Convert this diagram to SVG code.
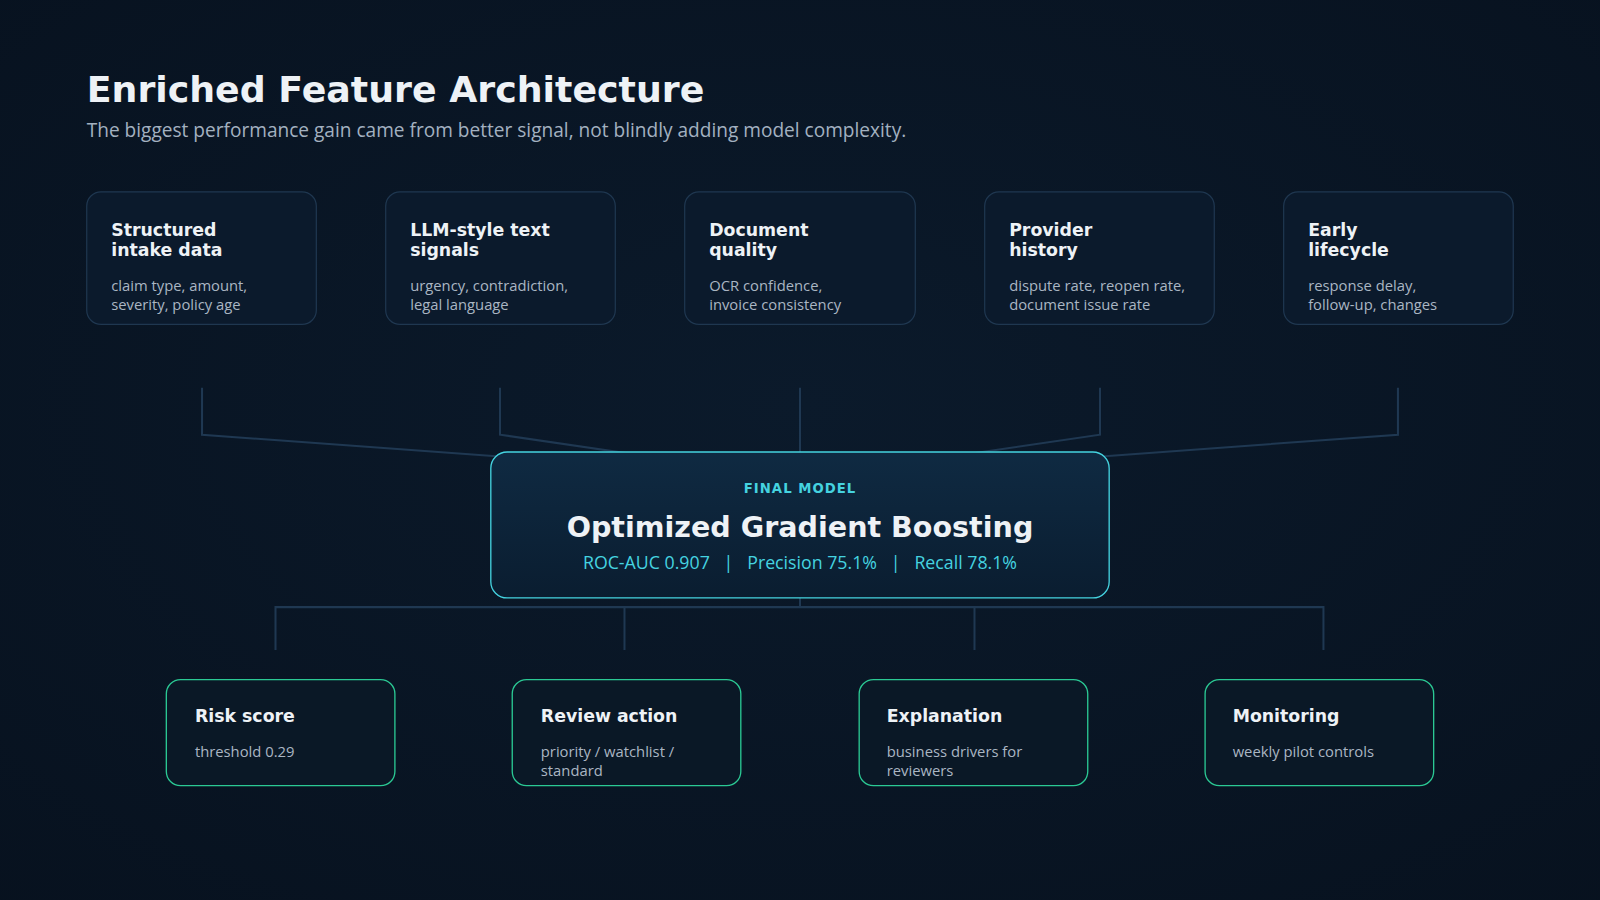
<svg xmlns="http://www.w3.org/2000/svg" width="1600" height="900" viewBox="0 0 1600 900">
<defs>
<radialGradient id="bg" cx="0.5" cy="0.45" r="0.8"><stop offset="0" stop-color="#0b1a2b"/><stop offset="1" stop-color="#07111e"/></radialGradient>
<linearGradient id="cg" x1="0" y1="0" x2="0" y2="1"><stop offset="0" stop-color="#0f2a42"/><stop offset="1" stop-color="#0a1d30"/></linearGradient>
</defs>
<style>
.card{fill:#0b1a2c;stroke:#1f3750;stroke-width:1.2}
.out{fill:#0a1826;stroke:#2bc994;stroke-width:1.3}
.h{font-family:"DejaVu Sans",sans-serif;font-weight:bold;font-size:17px;fill:#eef2f6}
.d{font-family:"Open Sans","Noto Sans",sans-serif;font-size:14.5px;fill:#aab6c3}
.ln{fill:none;stroke:#1f3852;stroke-width:2}
</style>
<rect width="1600" height="900" fill="url(#bg)"/>
<g transform="scale(1.0204)">
<text x="85" y="100" font-family="DejaVu Sans,sans-serif" font-weight="bold" font-size="35.6" fill="#eef2f6">Enriched Feature Architecture</text>
<text x="85" y="134" font-family="Open Sans,Noto Sans,sans-serif" font-size="18.7" fill="#a3b1c0">The biggest performance gain came from better signal, not blindly adding model complexity.</text>
<g id="connectors" class="ln">
<path d="M198 380V426L784 469M490 380V426L784 469M784 380V469M1078 380V426L784 469M1370 380V426L784 469"/>
<path d="M784 586V595M270 637V595H1297V637M612 595V637M955 595V637"/>
</g>
<g id="f1"><rect class="card" x="85" y="188" width="225" height="130" rx="14"/><text class="h" x="109" y="231">Structured</text><text class="h" x="109" y="251">intake data</text><text class="d" x="109" y="285">claim type, amount,</text><text class="d" x="109" y="304">severity, policy age</text></g>
<g id="f2"><rect class="card" x="378" y="188" width="225" height="130" rx="14"/><text class="h" x="402" y="231">LLM-style text</text><text class="h" x="402" y="251">signals</text><text class="d" x="402" y="285">urgency, contradiction,</text><text class="d" x="402" y="304">legal language</text></g>
<g id="f3"><rect class="card" x="671" y="188" width="226" height="130" rx="14"/><text class="h" x="695" y="231">Document</text><text class="h" x="695" y="251">quality</text><text class="d" x="695" y="285">OCR confidence,</text><text class="d" x="695" y="304">invoice consistency</text></g>
<g id="f4"><rect class="card" x="965" y="188" width="225" height="130" rx="14"/><text class="h" x="989" y="231">Provider</text><text class="h" x="989" y="251">history</text><text class="d" x="989" y="285">dispute rate, reopen rate,</text><text class="d" x="989" y="304">document issue rate</text></g>
<g id="f5"><rect class="card" x="1258" y="188" width="225" height="130" rx="14"/><text class="h" x="1282" y="231">Early</text><text class="h" x="1282" y="251">lifecycle</text><text class="d" x="1282" y="285">response delay,</text><text class="d" x="1282" y="304">follow-up, changes</text></g>
<g id="model"><rect x="481" y="443" width="606" height="143" rx="16" fill="url(#cg)" stroke="#45d3e0" stroke-width="1.3"/>
<text x="784" y="483" text-anchor="middle" font-family="DejaVu Sans,sans-serif" font-weight="bold" font-size="13" letter-spacing="1" fill="#45d3e0">FINAL MODEL</text>
<text x="784" y="526" text-anchor="middle" font-family="DejaVu Sans,sans-serif" font-weight="bold" font-size="28" fill="#eef2f6">Optimized Gradient Boosting</text>
<text x="784" y="558" text-anchor="middle" font-family="Open Sans,Noto Sans,sans-serif" font-size="17.4" fill="#45d3e0" xml:space="preserve">ROC-AUC 0.907   |   Precision 75.1%   |   Recall 78.1%</text></g>
<g id="o1"><rect class="out" x="163" y="666" width="224" height="104" rx="14"/><text class="h" x="191" y="708">Risk score</text><text class="d" x="191" y="742">threshold 0.29</text></g>
<g id="o2"><rect class="out" x="502" y="666" width="224" height="104" rx="14"/><text class="h" x="530" y="708">Review action</text><text class="d" x="530" y="742">priority / watchlist /</text><text class="d" x="530" y="760">standard</text></g>
<g id="o3"><rect class="out" x="842" y="666" width="224" height="104" rx="14"/><text class="h" x="869" y="708">Explanation</text><text class="d" x="869" y="742">business drivers for</text><text class="d" x="869" y="760">reviewers</text></g>
<g id="o4"><rect class="out" x="1181" y="666" width="224" height="104" rx="14"/><text class="h" x="1208" y="708">Monitoring</text><text class="d" x="1208" y="742">weekly pilot controls</text></g>
</g>
</svg>
